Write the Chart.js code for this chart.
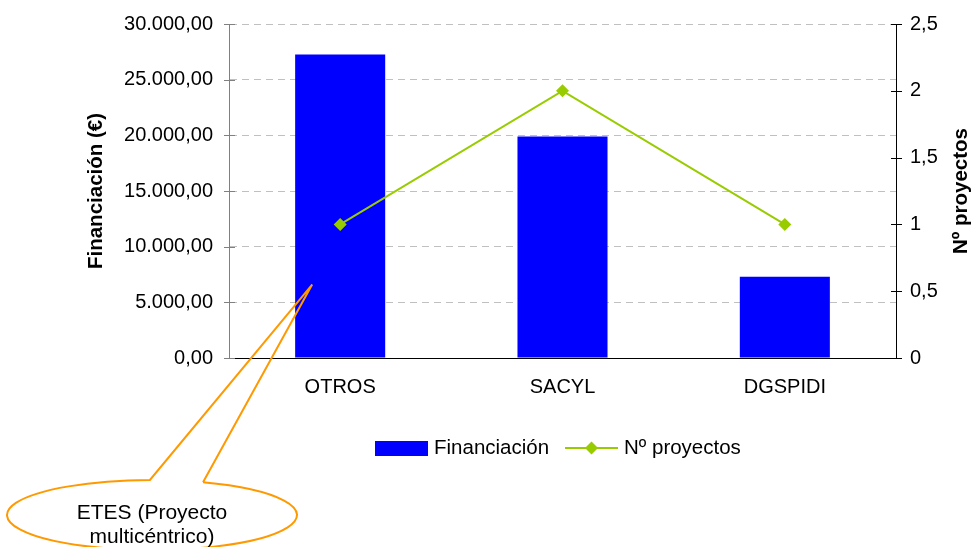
<!DOCTYPE html>
<html><head><meta charset="utf-8">
<script src="https://cdn.jsdelivr.net/npm/chart.js@4.4.0/dist/chart.umd.min.js"></script>
<style>html,body{margin:0;padding:0;background:#fff;}#wrap{width:973px;height:547px;}</style>
</head><body><div id="wrap"><canvas id="c" width="973" height="547"></canvas></div>
<script>
// ---- data ----
const categories = ['OTROS', 'SACYL', 'DGSPIDI'];
const financiacion = [27250, 19900, 7300];
const proyectos = [1, 2, 1];
const leftTickValues = [0, 5000, 10000, 15000, 20000, 25000, 30000];
const rightTickValues = [0, 0.5, 1, 1.5, 2, 2.5];
const seriesNames = ['Financiación', 'Nº proyectos'];
const axisTitles = ['Financiación (€)', 'Nº proyectos'];
const calloutLines = ['ETES (Proyecto', 'multicéntrico)'];
const calloutTarget = { category: 0, value: 6600 };

const FONT = '"Liberation Sans", Arial, sans-serif';
const fmtLeft = v => {
  const p = Number(v).toFixed(2).split('.');
  p[0] = p[0].replace(/\B(?=(\d{3})+(?!\d))/g, '.');
  return p.join(',');
};
const fmtRight = v => String(v).replace('.', ',');

const extras = {
  id: 'extras',
  afterDraw(chart) {
    const ctx = chart.ctx;
    const ca = chart.chartArea;
    const y = chart.scales.y, y2 = chart.scales.y2, x = chart.scales.x;
    ctx.save();
    // cross tick marks
    ctx.lineWidth = 1;
    ctx.strokeStyle = '#808080';
    leftTickValues.forEach(v => {
      const py = Math.round(y.getPixelForValue(v)) + 0.5;
      ctx.beginPath(); ctx.moveTo(ca.left - 5, py); ctx.lineTo(ca.left + 6, py); ctx.stroke();
    });
    ctx.strokeStyle = '#000';
    rightTickValues.forEach(v => {
      const py = Math.round(y2.getPixelForValue(v)) + 0.5;
      ctx.beginPath(); ctx.moveTo(ca.right - 5, py); ctx.lineTo(ca.right + 6, py); ctx.stroke();
    });
    // axis titles
    const cy = (ca.top + ca.bottom) / 2;
    ctx.fillStyle = '#000';
    ctx.font = 'bold 20.5px ' + FONT;
    ctx.textAlign = 'center'; ctx.textBaseline = 'middle';
    ctx.save(); ctx.translate(96, cy); ctx.rotate(-Math.PI / 2); ctx.fillText(axisTitles[0], 0, 0); ctx.restore();
    ctx.save(); ctx.translate(961, cy); ctx.rotate(-Math.PI / 2); ctx.fillText(axisTitles[1], 0, 0); ctx.restore();
    // legend
    const ds = chart.data.datasets;
    const ly = 448;
    ctx.fillStyle = ds[0].backgroundColor;
    ctx.fillRect(375, ly - 7, 53, 15);
    ctx.fillStyle = '#000'; ctx.font = '20.5px ' + FONT; ctx.textAlign = 'left';
    ctx.fillText(ds[0].label, 434, ly);
    ctx.strokeStyle = ds[1].borderColor; ctx.lineWidth = 2;
    ctx.beginPath(); ctx.moveTo(565, ly); ctx.lineTo(618, ly); ctx.stroke();
    ctx.fillStyle = ds[1].backgroundColor;
    ctx.beginPath(); ctx.moveTo(591.5, ly - 6.5); ctx.lineTo(598, ly); ctx.lineTo(591.5, ly + 6.5); ctx.lineTo(585, ly); ctx.closePath(); ctx.fill();
    ctx.fillStyle = '#000';
    ctx.fillText(ds[1].label, 624, ly);
    // callout
    const ecx = 152, ecy = 515, rx = 145, ry = 35;
    const t1 = -1.585, t2 = -1.211;
    const b2 = [ecx + rx * Math.cos(t2), ecy + ry * Math.sin(t2)];
    const tip = [x.getPixelForValue(calloutTarget.category) - 28, y.getPixelForValue(calloutTarget.value)];
    ctx.fillStyle = '#fff';
    ctx.beginPath(); ctx.ellipse(ecx, ecy, rx, ry, 0, 0, Math.PI * 2); ctx.fill();
    ctx.strokeStyle = '#FF9900'; ctx.lineWidth = 2; ctx.lineJoin = 'miter';
    ctx.beginPath();
    ctx.moveTo(b2[0], b2[1]);
    ctx.ellipse(ecx, ecy, rx, ry, 0, t2, t1 + Math.PI * 2, false);
    ctx.lineTo(tip[0], tip[1]);
    ctx.lineTo(b2[0], b2[1]);
    ctx.stroke();
    ctx.fillStyle = '#000'; ctx.font = '21px ' + FONT; ctx.textAlign = 'center'; ctx.textBaseline = 'alphabetic';
    ctx.fillText(calloutLines[0], ecx, 519);
    ctx.fillText(calloutLines[1], ecx, 543);
    ctx.restore();
  }
};

new Chart(document.getElementById('c'), {
  data: {
    labels: categories,
    datasets: [
      { type: 'bar', label: seriesNames[0], data: financiacion, backgroundColor: '#0000FF',
        categoryPercentage: 0.81, barPercentage: 0.5, yAxisID: 'y', order: 2 },
      { type: 'line', label: seriesNames[1], data: proyectos, borderColor: '#99CC00', backgroundColor: '#99CC00',
        borderWidth: 2, pointStyle: 'rectRot', pointRadius: 6.5, pointBorderWidth: 0, tension: 0,
        yAxisID: 'y2', order: 1 }
    ]
  },
  options: {
    responsive: false, animation: false, devicePixelRatio: 1,
    layout: { padding: { top: 24, left: 0, right: 0, bottom: 0 } },
    plugins: { legend: { display: false }, tooltip: { enabled: false } },
    scales: {
      x: {
        grid: { display: false, drawTicks: false },
        border: { color: '#000', width: 1 },
        ticks: { color: '#000', font: { family: FONT, size: 20 }, padding: 17 },
        afterFit: s => { s.height = 189; s.paddingLeft = 0; s.paddingRight = 0; }
      },
      y: {
        position: 'left', min: 0, max: 30000,
        afterBuildTicks: s => { s.ticks = leftTickValues.map(v => ({ value: v })); },
        ticks: { color: '#000', font: { family: FONT, size: 20 }, padding: 16, callback: v => fmtLeft(v) },
        grid: { color: '#C0C0C0', drawTicks: false },
        border: { color: '#808080', dash: [7, 5] },
        afterFit: s => { s.width = 229; s.paddingTop = 0; s.paddingBottom = 0; }
      },
      y2: {
        position: 'right', min: 0, max: 2.5,
        afterBuildTicks: s => { s.ticks = rightTickValues.map(v => ({ value: v })); },
        ticks: { color: '#000', font: { family: FONT, size: 20 }, padding: 14, callback: v => fmtRight(v) },
        grid: { drawOnChartArea: false, drawTicks: false },
        border: { color: '#000' },
        afterFit: s => { s.width = 77; s.paddingTop = 0; s.paddingBottom = 0; }
      }
    }
  },
  plugins: [extras]
});
</script>
</body></html>
